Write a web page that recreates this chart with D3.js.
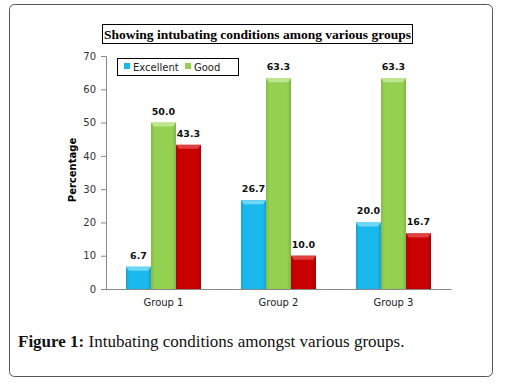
<!DOCTYPE html>
<html>
<head>
<meta charset="utf-8">
<script src="https://d3js.org/d3.v7.min.js"></script>
<style>
  body { margin: 0; background: #fff; }
</style>
</head>
<body>
<div id="chart"></div>
<script>
const groups = ['Group 1', 'Group 2', 'Group 3'];
const series = ['Excellent', 'Good', 'Poor'];
const excellent = [6.7, 26.7, 20.0];
const good = [50.0, 63.3, 63.3];
const poor = [43.3, 10.0, 16.7];
const yTicks = [0, 10, 20, 30, 40, 50, 60, 70];

const colors = { Excellent: '#1ab8ec', Good: '#94d150', Poor: '#c80000' };
const tops = { Excellent: '#6fd6f6', Good: '#bfe68e', Poor: '#e04040' };

const W = 507, H = 386;
const svg = d3.select('#chart').append('svg')
    .attr('width', W)
    .attr('height', H);

// outer frame
svg.append('rect')
    .attr('x', 9.5).attr('y', 4.5)
    .attr('width', 483).attr('height', 372)
    .attr('rx', 5)
    .attr('fill', '#fff')
    .attr('stroke', '#555')
    .attr('stroke-width', 1);

// title
svg.append('rect')
    .attr('x', 102.5).attr('y', 24.5)
    .attr('width', 310).attr('height', 19)
    .attr('fill', '#fff')
    .attr('stroke', '#000');
svg.append('text')
    .attr('x', 257.5).attr('y', 38.5)
    .attr('text-anchor', 'middle')
    .style('font-family', 'Liberation Serif, serif')
    .style('font-weight', 'bold')
    .style('font-size', '13.5px')
    .text('Showing intubating conditions among various groups');

const x0 = d3.scaleBand().domain(groups).range([106, 451]).paddingInner(0.348).paddingOuter(0.174);
const x1 = d3.scaleBand().domain(series).range([0, x0.bandwidth()]);
const y = d3.scaleLinear().domain([0, 70]).range([289, 56]);

const data = groups.map((g, i) => ({
  group: g,
  values: [
    { key: 'Excellent', value: excellent[i] },
    { key: 'Good', value: good[i] },
    { key: 'Poor', value: poor[i] }
  ]
}));

// y axis
const yAxis = svg.append('g')
    .attr('transform', 'translate(106,0)')
    .call(d3.axisLeft(y).tickValues(yTicks).tickSize(5).tickPadding(5));
yAxis.select('.domain').attr('stroke', '#888');
yAxis.selectAll('.tick line').attr('stroke', '#888');
yAxis.selectAll('text')
    .style('font-family', 'DejaVu Sans, sans-serif')
    .style('font-size', '10px')
    .attr('fill', '#333');

// x axis
const xAxis = svg.append('g')
    .attr('transform', 'translate(0,289)')
    .call(d3.axisBottom(x0).tickSize(0).tickPadding(10));
xAxis.select('.domain').attr('stroke', '#888');
xAxis.selectAll('text')
    .style('font-family', 'DejaVu Sans, sans-serif')
    .style('font-size', '10px')
    .attr('fill', '#222');

// y label
svg.append('text')
    .attr('transform', 'translate(76,170) rotate(-90)')
    .attr('text-anchor', 'middle')
    .style('font-family', 'DejaVu Sans, sans-serif')
    .style('font-weight', 'bold')
    .style('font-size', '10px')
    .text('Percentage');

// bars
const defs = svg.append('defs');
series.forEach(s => {
  const grad = defs.append('linearGradient')
      .attr('id', 'g-' + s)
      .attr('x1', 0).attr('x2', 1).attr('y1', 0).attr('y2', 0);
  grad.append('stop').attr('offset', '0%').attr('stop-color', d3.color(colors[s]).darker(0.3));
  grad.append('stop').attr('offset', '15%').attr('stop-color', colors[s]);
  grad.append('stop').attr('offset', '85%').attr('stop-color', colors[s]);
  grad.append('stop').attr('offset', '100%').attr('stop-color', d3.color(colors[s]).darker(0.4));
});

const g = svg.selectAll('.grp')
    .data(data)
    .join('g')
    .attr('class', 'grp')
    .attr('transform', d => `translate(${x0(d.group)},0)`);

g.selectAll('rect.bar')
    .data(d => d.values)
    .join('rect')
    .attr('class', 'bar')
    .attr('x', d => x1(d.key))
    .attr('y', d => y(d.value))
    .attr('width', x1.bandwidth())
    .attr('height', d => y(0) - y(d.value))
    .attr('fill', d => `url(#g-${d.key})`);

// bevel cap
g.selectAll('path.cap')
    .data(d => d.values)
    .join('path')
    .attr('class', 'cap')
    .attr('d', d => {
      const bx = x1(d.key), by = y(d.value), bw = x1.bandwidth();
      return `M${bx},${by}L${bx + bw},${by}L${bx + bw - 3},${by + 4}L${bx + 3},${by + 4}Z`;
    })
    .attr('fill', d => tops[d.key]);

g.selectAll('text.val')
    .data(d => d.values)
    .join('text')
    .attr('class', 'val')
    .attr('x', d => x1(d.key) + x1.bandwidth() / 2)
    .attr('y', d => y(d.value) - 8)
    .attr('text-anchor', 'middle')
    .style('font-family', 'DejaVu Sans, sans-serif')
    .style('font-weight', 'bold')
    .style('font-size', '9.5px')
    .attr('fill', '#111')
    .text(d => d.value.toFixed(1));

// legend (only two entries visible)
const legend = svg.append('g');
legend.append('rect')
    .attr('x', 117.5).attr('y', 58.5)
    .attr('width', 121).attr('height', 17)
    .attr('fill', '#fff')
    .attr('stroke', '#000');
const legendItems = [
  { key: 'Excellent', x: 124 },
  { key: 'Good', x: 185 }
];
legendItems.forEach(it => {
  legend.append('rect')
      .attr('x', it.x).attr('y', 63)
      .attr('width', 6).attr('height', 6)
      .attr('fill', colors[it.key]);
  legend.append('text')
      .attr('x', it.x + 9).attr('y', 70.5)
      .style('font-family', 'DejaVu Sans, sans-serif')
      .style('font-size', '10px')
      .attr('fill', '#222')
      .text(it.key);
});

// caption
const cap = svg.append('text')
    .attr('x', 18).attr('y', 347)
    .style('font-family', 'Liberation Serif, serif')
    .style('font-size', '17px')
    .attr('fill', '#111');
cap.append('tspan').style('font-weight', 'bold').text('Figure 1:');
cap.append('tspan').text(' Intubating conditions amongst various groups.');
</script>
</body>
</html>
